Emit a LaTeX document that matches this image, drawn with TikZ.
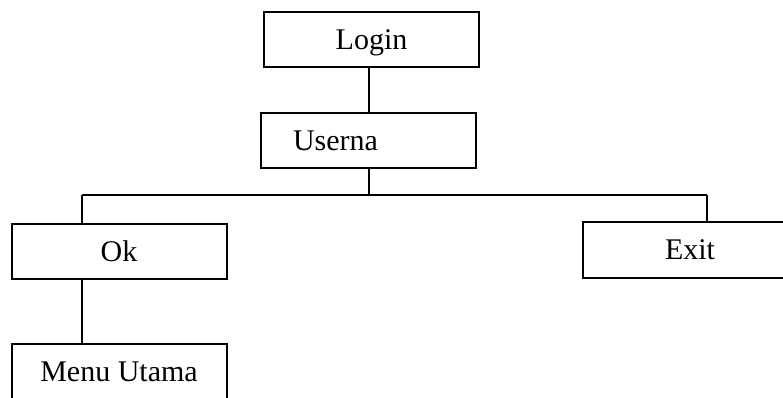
\documentclass[tikz,border=0pt]{standalone}
\usepackage{fontspec}
\setmainfont{Liberation Serif}
\usepackage{tikz}
\tikzset{
    every node/.style={draw, rectangle, line width=1pt, minimum width=107.5pt,
    	minimum height=27.5pt, inner sep=0pt, text depth=0pt,
    	font=\fontsize{15}{18}\selectfont}
}
\tikzset{
    bar/.style={line width=1pt}
}

\begin{document}
\begin{tikzpicture}[x=0.5pt,y=-0.5pt]
  \useasboundingbox (0,0) rectangle (783,397);
  \node (login) at (371.5,39.5) {Login};
  \node (userna) [text width=75.5pt, inner xsep=16pt, align=left] at (368.5,140.5) {Userna};
  \node (ok) at (119,251.5) {Ok};
  \node (exit) [minimum height=28pt] at (690,250) {Exit};
  \node (menu) at (119,371.5) {Menu Utama};
  \coordinate (busL) at (82,195);
  \coordinate (busR) at (707,195);

  \draw[bar] (userna.north |- login.south) -- (userna.north);
  \draw[bar] (userna.south) -- (userna.south |- busL);
  \draw[bar] (busL) -- (busR);
  \draw[bar] (busL) -- (busL |- ok.north);
  \draw[bar] (busR) -- (busR |- exit.north);
  \draw[bar] (busL |- ok.south) -- (busL |- menu.north);
\end{tikzpicture}
\end{document}
